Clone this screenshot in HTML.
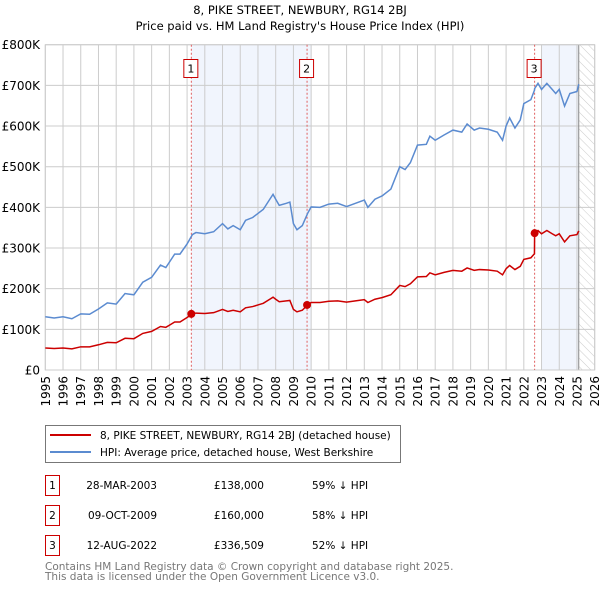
<!DOCTYPE html>
<html><head><meta charset="utf-8"><style>
body{margin:0;background:#fff;font-family:"DejaVu Sans","Liberation Sans",sans-serif;}
svg{display:block}
</style></head><body>
<svg id="chart" width="600" height="590" viewBox="0 0 600 590" font-family="DejaVu Sans, Liberation Sans, sans-serif">
<defs><pattern id="hatch" width="6" height="6" patternUnits="userSpaceOnUse" patternTransform="rotate(-45)"><line x1="0" y1="0" x2="0" y2="6" stroke="#ccc" stroke-width="1"/></pattern></defs>
<text x="300" y="14" text-anchor="middle" font-size="11.5">8, PIKE STREET, NEWBURY, RG14 2BJ</text>
<text x="300" y="30" text-anchor="middle" font-size="11.5">Price paid vs. HM Land Registry's House Price Index (HPI)</text>
<g id="plot"></g>
<g>
<rect x="45.5" y="425.5" width="355" height="37" fill="#fff" stroke="#777"/>
<line x1="50" y1="435" x2="91" y2="435" stroke="#cc0000" stroke-width="2"/>
<text x="100" y="439" font-size="10.5">8, PIKE STREET, NEWBURY, RG14 2BJ (detached house)</text>
<line x1="50" y1="452" x2="91" y2="452" stroke="#5b8bd0" stroke-width="2"/>
<text x="100" y="456" font-size="10.5">HPI: Average price, detached house, West Berkshire</text>
</g>
<g font-size="10.5">
<g><rect x="45.5" y="475.5" width="14" height="20" fill="#fff" stroke="#cc0000"/><text x="52.5" y="489" text-anchor="middle">1</text><text x="157" y="489" text-anchor="end">28-MAR-2003</text><text x="264" y="489" text-anchor="end">£138,000</text><text x="312" y="489">59% ↓ HPI</text></g>
<g><rect x="45.5" y="505.5" width="14" height="20" fill="#fff" stroke="#cc0000"/><text x="52.5" y="519" text-anchor="middle">2</text><text x="157" y="519" text-anchor="end">09-OCT-2009</text><text x="264" y="519" text-anchor="end">£160,000</text><text x="312" y="519">58% ↓ HPI</text></g>
<g><rect x="45.5" y="535.5" width="14" height="20" fill="#fff" stroke="#cc0000"/><text x="52.5" y="549" text-anchor="middle">3</text><text x="157" y="549" text-anchor="end">12-AUG-2022</text><text x="264" y="549" text-anchor="end">£336,509</text><text x="312" y="549">52% ↓ HPI</text></g>
</g>
<text x="45" y="570" font-size="10.5" fill="#777">Contains HM Land Registry data © Crown copyright and database right 2025.</text>
<text x="45" y="580" font-size="10.5" fill="#777">This data is licensed under the Open Government Licence v3.0.</text>
</svg>
<script>
const dates=[1995.0,1995.5,1996.0,1996.5,1997.0,1997.5,1998.0,1998.5,1999.0,1999.5,2000.0,2000.5,2001.0,2001.5,2001.8,2002.0,2002.3,2002.6,2003.0,2003.3,2003.5,2004.0,2004.5,2005.0,2005.3,2005.6,2006.0,2006.3,2006.7,2007.0,2007.3,2007.7,2007.85,2008.0,2008.2,2008.6,2008.8,2009.0,2009.2,2009.5,2009.8,2010.0,2010.5,2011.0,2011.5,2012.0,2012.5,2013.0,2013.2,2013.6,2014.0,2014.5,2015.0,2015.3,2015.6,2016.0,2016.5,2016.7,2017.0,2017.5,2018.0,2018.5,2018.8,2019.2,2019.5,2020.0,2020.5,2020.8,2021.0,2021.2,2021.5,2021.8,2022.0,2022.4,2022.6,2022.61,2022.8,2023.0,2023.3,2023.6,2023.8,2024.0,2024.3,2024.6,2025.0,2025.1];
const hpiValues=[131,128,131,126,138,137,150,165,162,188,185,216,228,258,252,265,285,285,310,333,338,335,340,360,347,355,345,368,375,385,395,422,432,420,405,410,413,360,345,355,385,401,400,408,410,402,410,418,400,420,428,445,500,493,510,553,555,575,565,578,590,585,605,590,595,592,585,565,600,620,595,615,655,665,688,692,705,690,705,690,680,690,649,680,685,703];
const priceValues=[54,53,54,52,57,57,62,68,67,78,77,90,95,107,105,110,118,118,129,138,140,139,141,149,144,147,143,153,156,160,164,175,179,174,168,170,171,149,143,147,160,166,166,169,170,167,170,173,166,174,178,185,208,205,212,229,230,239,234,240,245,243,251,245,247,246,243,234,249,257,247,255,272,276,286,336.5,343,335,343,335,330,335,315,330,333,342];
const saleDates=[2003.24,2009.77,2022.61];
const salePrices=[138,160,336.5];
const saleLabels=["1","2","3"];
const yTicks=[0,100,200,300,400,500,600,700,800];
const yTickLabels=["£0","£100K","£200K","£300K","£400K","£500K","£600K","£700K","£800K"];
const xYears=[1995,1996,1997,1998,1999,2000,2001,2002,2003,2004,2005,2006,2007,2008,2009,2010,2011,2012,2013,2014,2015,2016,2017,2018,2019,2020,2021,2022,2023,2024,2025,2026];

const X0=45.3,X1=594.7,Y0=370,Y1=44.7;
const xs=y=>X0+(y-1995)/(2026-1995)*(X1-X0);
const ys=v=>Y0-v/800*(Y0-Y1);
const NS="http://www.w3.org/2000/svg";
const g=document.getElementById('plot');
function mk(t,a,p){const e=document.createElementNS(NS,t);for(const k in a)e.setAttribute(k,a[k]);(p||g).appendChild(e);return e;}

const bg=mk('rect',{x:X0,y:Y1,width:X1-X0,height:Y0-Y1,fill:'#fff'});


const s1=mk('rect',{x:xs(saleDates[0]),y:Y1,width:xs(2010)-xs(saleDates[0]),height:Y0-Y1,fill:'#eef3fc',opacity:0.8});


const s2=mk('rect',{x:xs(2023),y:Y1,width:xs(2025.1)-xs(2023),height:Y0-Y1,fill:'#eef3fc',opacity:0.8});


const hz=mk('rect',{x:xs(2025.1),y:Y1,width:X1-xs(2025.1),height:Y0-Y1,fill:'url(#hatch)'});



xYears.forEach(yr=>{
  const l=mk('line',{x1:xs(yr),x2:xs(yr),y1:Y1,y2:Y0,stroke:'#ccc','stroke-width':1});
  
  
  const t=mk('text',{x:0,y:0,'font-size':12,'text-anchor':'end',transform:`translate(${xs(yr)+4.5},376) rotate(-90)`});
  t.textContent=yr;
  
  
});
yTicks.forEach((v,i)=>{
  const l=mk('line',{x1:X0,x2:X1,y1:ys(v),y2:ys(v),stroke:'#ccc','stroke-width':1});
  
  
  const t=mk('text',{x:40,y:ys(v)+4.5,'font-size':12,'text-anchor':'end'});
  t.textContent=yTickLabels[i];
  
  
});
const nl=mk('line',{x1:xs(2025.1),x2:xs(2025.1),y1:Y1,y2:Y0,stroke:'#888','stroke-width':1});


const fr=mk('rect',{x:X0,y:Y1,width:X1-X0,height:Y0-Y1,fill:'none',stroke:'#ccc'});



saleDates.forEach((d,i)=>{
  const l=mk('line',{x1:xs(d),x2:xs(d),y1:Y1,y2:Y0,stroke:'#e06060','stroke-width':1,'stroke-dasharray':'2,2'});
  
  
});

const hp=mk('polyline',{points:dates.map((d,i)=>xs(d)+','+ys(hpiValues[i])).join(' '),fill:'none',stroke:'#5b8bd0','stroke-width':1.5});


const pp=mk('polyline',{points:dates.map((d,i)=>xs(d)+','+ys(priceValues[i])).join(' '),fill:'none',stroke:'#cc0000','stroke-width':1.5});



saleDates.forEach((d,i)=>{
  const c=mk('circle',{cx:xs(d),cy:ys(salePrices[i]),r:4,fill:'#cc0000'});
  
  
  const b=mk('rect',{x:xs(d)-7.5,y:59.5,width:14,height:18,fill:'#fff',stroke:'#cc0000'});
  
  
  const t=mk('text',{x:xs(d)-0.5,y:72.5,'font-size':11,'text-anchor':'middle'});
  t.textContent=saleLabels[i];
  
  
});
</script>
</body></html>
